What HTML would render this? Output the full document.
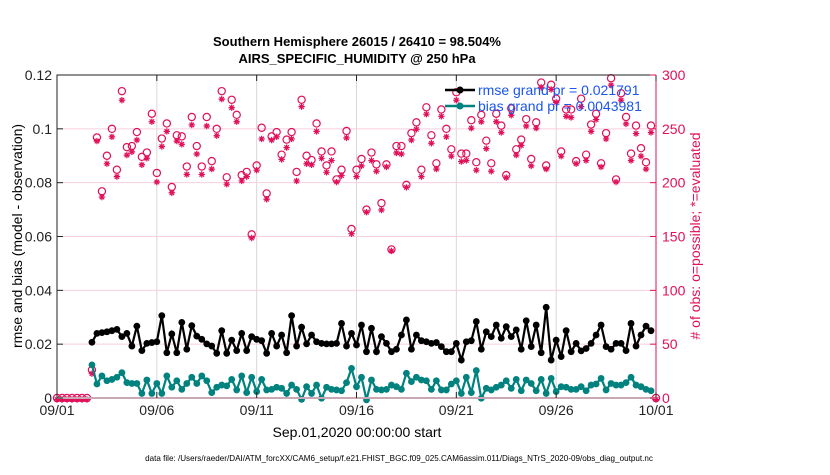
<!DOCTYPE html>
<html><head><meta charset="utf-8"><style>
body{margin:0;background:#fff;}
svg text{font-family:"Liberation Sans",sans-serif;}
</style></head><body>
<svg id="chart" width="830" height="470" xmlns="http://www.w3.org/2000/svg">
<rect width="830" height="470" fill="#fff"/>
<text x="357" y="46" text-anchor="middle" font-size="13" font-weight="bold">Southern Hemisphere 26015 / 26410 = 98.504%</text>
<text x="357" y="63" text-anchor="middle" font-size="13" font-weight="bold">AIRS_SPECIFIC_HUMIDITY @ 250 hPa</text>
<g id="grid"></g>
<g id="marks"></g>
<g id="axes"></g>
<text x="357" y="437" text-anchor="middle" font-size="14">Sep.01,2020 00:00:00 start</text>
<text transform="translate(22,236) rotate(-90)" text-anchor="middle" font-size="14">rmse and bias (model - observation)</text>
<text transform="translate(700,236) rotate(-90)" text-anchor="middle" font-size="14" fill="#e0105a"># of obs: o=possible; *=evaluated</text>
<text x="399" y="461" text-anchor="middle" font-size="8.1">data file: /Users/raeder/DAI/ATM_forcXX/CAM6_setup/f.e21.FHIST_BGC.f09_025.CAM6assim.011/Diags_NTrS_2020-09/obs_diag_output.nc</text>
<g id="legend"></g>
</svg>
<script>
const xTickLabels=["09/01","09/06","09/11","09/16","09/21","09/26","10/01"];
const yTicksLeft=[0,0.02,0.04,0.06,0.08,0.1,0.12];
const yTickLabelsLeft=["0","0.02","0.04","0.06","0.08","0.1","0.12"];
const yTicksRight=[0,50,100,150,200,250,300];
const rmseStart=7;
const rmse=[0.0207,0.0240,0.0243,0.0246,0.0250,0.0255,0.0228,0.0240,0.0193,0.0267,0.0176,0.0203,0.0206,0.0209,0.0306,0.0168,0.0238,0.0168,0.0281,0.0181,0.0269,0.0230,0.0218,0.0201,0.0193,0.0166,0.0250,0.0166,0.0215,0.0176,0.0240,0.0176,0.0228,0.0218,0.0213,0.0166,0.0240,0.0193,0.0234,0.0168,0.0306,0.0193,0.0263,0.0201,0.0234,0.0209,0.0203,0.0201,0.0201,0.0203,0.0277,0.0193,
0.0240,0.0197,0.0271,0.0172,0.0259,0.0172,0.0228,0.0203,0.0172,0.0181,0.0234,0.0290,0.0181,0.0234,0.0213,0.0209,0.0203,0.0206,0.0191,0.0172,0.0172,0.0203,0.0141,0.0209,0.0213,0.0284,0.0181,0.0246,0.0228,0.0271,0.0222,0.0265,0.0228,0.0253,0.0181,0.0287,0.0191,0.0271,0.0168,0.0337,0.0141,0.0215,0.0154,0.0250,0.0172,0.0203,0.0175,0.0184,0.0203,0.0234,0.0271,0.0191,0.0181,0.0203,0.0203,0.0176,0.0277,0.0193,0.0234,0.0267,0.0250];
const bias=[0.0123,0.0052,0.0082,0.0064,0.0069,0.0077,0.0094,0.0057,0.0054,0.0054,0.0017,0.0067,0.0017,0.0054,0.0017,0.0082,0.0040,0.0064,0.0032,0.0054,0.0077,0.0054,0.0082,0.0064,0.0020,0.0040,0.0048,0.0045,0.0069,0.0030,0.0082,0.0020,0.0077,0.0024,0.0069,0.0030,0.0032,0.0040,0.0036,0.0017,0.0048,0.0032,-0.0005,0.0042,0.0017,0.0048,-0.0001,0.0040,0.0032,0.0030,0.0027,0.0057,
0.0110,0.0042,0.0077,-0.0007,0.0067,0.0032,0.0030,0.0032,0.0048,0.0042,0.0032,0.0092,0.0061,0.0077,0.0067,0.0064,0.0032,0.0064,0.0030,0.0030,0.0052,0.0064,0.0017,0.0077,0.0020,0.0102,-0.0001,0.0036,0.0030,0.0040,0.0048,0.0064,0.0036,0.0069,0.0027,0.0067,0.0054,0.0027,0.0069,0.0017,0.0073,0.0024,0.0042,0.0040,0.0032,0.0032,0.0042,0.0027,0.0048,0.0052,0.0073,0.0030,0.0054,0.0048,0.0048,0.0057,0.0077,0.0048,0.0042,0.0032,0.0027];
const obsPossible=[0,0,0,0,0,0,0,26,
242,192,225,250,212,285,233,234,247,224,228,264,209,241,255,196,244,243,215,261,234,215,261,220,250,285,205,277,263,207,210,152,216,251,190,243,247,226,240,247,210,277,225,221,255,229,216,229,203,212,248,
157,212,222,175,228,217,181,217,138,234,234,198,246,256,212,270,244,218,268,250,231,284,227,227,258,219,263,239,218,264,253,207,269,231,240,259,222,256,293,216,291,278,229,268,268,220,278,226,254,264,218,246,297,203,283,261,227,253,232,219,253,0];
const obsUsed=[0,0,0,0,0,0,0,24,
240,188,219,244,207,278,227,230,241,218,224,258,202,235,249,192,240,237,209,255,228,209,254,214,245,279,200,271,258,203,207,150,213,242,186,241,244,223,234,242,203,272,219,218,249,224,211,222,202,208,243,
154,207,217,174,222,212,176,216,138,229,228,197,241,251,207,265,238,214,263,244,226,278,221,222,252,213,258,233,212,258,248,206,264,227,236,254,217,252,290,214,288,276,226,263,262,219,272,222,249,260,216,242,292,202,278,256,222,247,226,214,248,0];

const L=57,R=656,T=75,B=398,NS="http://www.w3.org/2000/svg";
const RED="#e0105a",TEAL="#00827f";
const xs=i=>L+(R-L)*(i*0.25)/30;
const xd=d=>L+(R-L)*d/30;
const yl=v=>B-(B-T)*v/0.12;
const yr=v=>B-(B-T)*v/300;
function mk(tag,attrs,parent){const e=document.createElementNS(NS,tag);for(const k in attrs)e.setAttribute(k,attrs[k]);parent.appendChild(e);return e;}
const grid=document.getElementById('grid'),marks=document.getElementById('marks'),axes=document.getElementById('axes'),legend=document.getElementById('legend');
xTickLabels.forEach((t,k)=>{const g=mk('line',{x1:xd(k*5),x2:xd(k*5),y1:T,y2:B,stroke:'#d8d8d8','stroke-width':1},grid);

});
yTicksLeft.forEach(v=>{const g=mk('line',{x1:L,x2:R,y1:yl(v),y2:yl(v),stroke:'#f7cfe0','stroke-width':1},grid);

});
obsPossible.forEach((v,i)=>{const c=mk('circle',{cx:xs(i),cy:yr(v),r:3.6,fill:'none',stroke:RED,'stroke-width':1.2},marks);

});
obsUsed.forEach((v,i)=>{const x=xs(i),y=yr(v)+1.5,s=3.2;
const p=mk('path',{d:`M${x-s},${y}H${x+s}M${x},${y-s}V${y+s}M${x-s*0.7},${y-s*0.7}L${x+s*0.7},${y+s*0.7}M${x-s*0.7},${y+s*0.7}L${x+s*0.7},${y-s*0.7}`,stroke:RED,'stroke-width':1.2,fill:'none'},marks);

});
function series(arr,color,name){
  const pts=arr.map((v,j)=>[xs(j+rmseStart),yl(v)]);
  const pl=mk('polyline',{points:pts.map(p=>p.join(',')).join(' '),fill:'none',stroke:color,'stroke-width':2.2},marks);
  
  
  pts.forEach(p=>{const c=mk('circle',{cx:p[0],cy:p[1],r:3.4,fill:color},marks);
  
  });
}
series(bias,TEAL,'bias');
series(rmse,'#000','rmse');
const ax=mk('path',{d:`M${L},${B}V${T}H${R}`,stroke:'#222','stroke-width':1,fill:'none'},axes);


const bx=mk('line',{x1:L,x2:R,y1:B,y2:B,stroke:'#c9a8b4','stroke-width':2},axes);


const rx=mk('line',{x1:R,x2:R,y1:T,y2:B,stroke:RED,'stroke-width':1},axes);


xTickLabels.forEach((t,k)=>{const x=xd(k*5);
mk('line',{x1:x,x2:x,y1:T,y2:T+6,stroke:'#222'},axes);
mk('line',{x1:x,x2:x,y1:B,y2:B-6,stroke:'#222'},axes);
const tx=mk('text',{x:x,y:B+17,'text-anchor':'middle','font-size':14,fill:'#222'},axes);tx.textContent=t;

});
yTicksLeft.forEach((v,k)=>{const y=yl(v);
mk('line',{x1:L,x2:L+6,y1:y,y2:y,stroke:'#222'},axes);
const tx=mk('text',{x:L-5,y:y+5,'text-anchor':'end','font-size':14,fill:'#222'},axes);tx.textContent=yTickLabelsLeft[k];

});
yTicksRight.forEach(v=>{const y=yr(v);
mk('line',{x1:R,x2:R-6,y1:y,y2:y,stroke:RED},axes);
const tx=mk('text',{x:R+6,y:y+5,'text-anchor':'start','font-size':14,fill:RED},axes);tx.textContent=String(v);

});
[["rmse grand pr = 0.021791","#000",90,'legend-entry-rmse'],["bias grand pr = 0.0043981",TEAL,106,'legend-entry-bias']].forEach(e=>{
const g=mk('g',{},legend);


mk('line',{x1:445,x2:475,y1:e[2],y2:e[2],stroke:e[1],'stroke-width':2.5},g);
mk('circle',{cx:460,cy:e[2],r:3.5,fill:e[1]},g);
const t=mk('text',{x:478,y:e[2]+5,'font-size':14,fill:'#1a55f0'},g);t.textContent=e[0];});
</script>
</body></html>
